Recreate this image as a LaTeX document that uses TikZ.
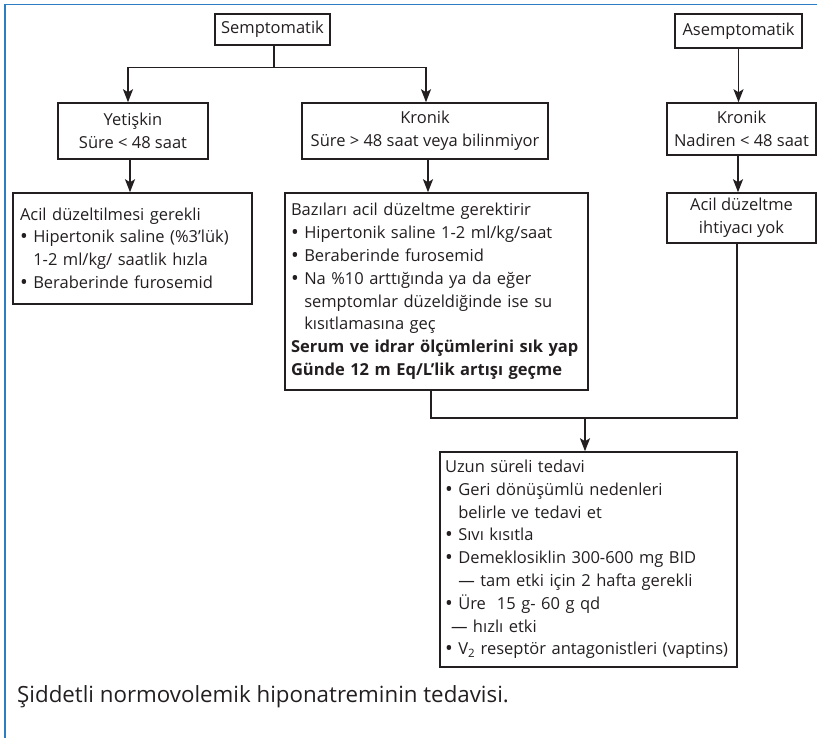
\documentclass[tikz,border=0pt]{standalone}
\usepackage{fontspec}
\setmainfont{Open Sans}
\usetikzlibrary{arrows.meta}
\definecolor{frameblue}{RGB}{45,125,195}
\definecolor{ink}{RGB}{35,31,32}
\newcommand\bulglyph{\raisebox{-0.05em}{\scalebox{1.25}{\textbullet}}}
\newcommand\ind{\phantom{\bulglyph\ }}
\newcommand\bul{\bulglyph\ }
\begin{document}
\begin{tikzpicture}[x=1pt,y=-1pt,
  font=\fontsize{16.5}{22.8}\selectfont,
  box/.style={draw=ink,line width=1.5pt,rectangle,inner sep=0pt,text=ink},
  cbox/.style={box,align=center},
  lbox/.style={box,align=left,inner xsep=6pt},
  conn/.style={draw=ink,line width=1.5pt},
  arr/.style={conn,-{Stealth[length=13pt,width=10pt,inset=3pt]}}]
\useasboundingbox (0,0) rectangle (817,738);
% open frame: top and left rules
\draw[frameblue,line width=1.8pt] (817,4.5) -- (5,4.5) -- (5,738);

% top row
\node[cbox,minimum width=115pt,minimum height=31pt] (sem) at (272.5,29.5) {Semptomatik};
\node[cbox,minimum width=127pt,minimum height=34pt] (asem) at (738.5,31) {Asemptomatik};

% second row
\node[cbox,minimum width=150pt,minimum height=56pt] (yet) at (133,131) {Yetişkin\\Süre < 48 saat};
\node[cbox,minimum width=246pt,minimum height=56pt] (kron) at (425,131) {Kronik\\Süre > 48 saat veya bilinmiyor};
\node[cbox,minimum width=149pt,minimum height=52pt] (kron2) at (741.5,129) {Kronik\\Nadiren < 48 saat};

% third row
\node[lbox,minimum width=239pt,minimum height=111pt,text width=225pt] (acil1) at (132.5,248.5)
  {Acil düzeltilmesi gerekli\\
   \bul Hipertonik saline (\%3’lük)\\
   \ind 1-2 ml/kg/ saatlik hızla\\
   \bul Beraberinde furosemid};
\node[lbox,minimum width=303pt,minimum height=197pt,text width=291pt] (baz) at (436.5,291.5)
  {Bazıları acil düzeltme gerektirir\\
   \bul Hipertonik saline 1-2 ml/kg/saat\\
   \bul Beraberinde furosemid\\
   \bul Na \%10 arttığında ya da eğer\\
   \ind semptomlar düzeldiğinde ise su\\
   \ind kısıtlamasına geç\\
   \textbf{Serum ve idrar ölçümlerini sık yap}\\
   \textbf{Günde 12 m Eq/L’lik artışı geçme}};
\node[cbox,minimum width=149pt,minimum height=50pt] (acil2) at (741.5,218) {Acil düzeltme\\ihtiyacı yok};

% long-term treatment
\node[lbox,inner xsep=5pt,minimum width=297pt,minimum height=215pt,text width=287pt] (uzun) at (588.5,559.5)
  {Uzun süreli tedavi\\
   \bul Geri dönüşümlü nedenleri\\
   \ind belirle ve tedavi et\\
   \bul Sıvı kısıtla\\
   \bul Demeklosiklin 300-600 mg BID\\
   \ind — tam etki için 2 hafta gerekli\\
   \bul Üre\ \ 15 g- 60 g qd\\
   \hspace{6pt}— hızlı etki\\
   \bul V\textsubscript{2} reseptör antagonistleri (vaptins)};

% caption
\node[anchor=west,inner sep=0pt,text=ink,font=\fontsize{22.3}{27}\selectfont] (cap) at (17,697)
  {Şiddetli normovolemik hiponatreminin tedavisi.};

% connectors
\draw[conn] ([xshift=1.5pt]sem.south) -- ++(0,22) coordinate (split);
\draw[arr] (split) -| ([xshift=-5pt]yet.north);
\draw[arr] (split) -| ([xshift=1pt]kron.north);
\draw[arr] (asem.south) -- (asem.south |- kron2.north);
\draw[arr] ([xshift=-3pt]yet.south) -- ([xshift=-3pt]yet.south |- acil1.north);
\draw[arr] ([xshift=3pt]kron.south) -- ([xshift=3pt]kron.south |- baz.north);
\draw[arr] ([xshift=-3.5pt]kron2.south) -- ([xshift=-3.5pt]kron2.south |- acil2.north);
\coordinate (join) at (585,418);
\draw[conn] ([xshift=-5.5pt]baz.south) |- (join) -| ([xshift=-4.5pt]acil2.south);
\draw[arr] (join) -- (join |- uzun.north);
\end{tikzpicture}
\end{document}
